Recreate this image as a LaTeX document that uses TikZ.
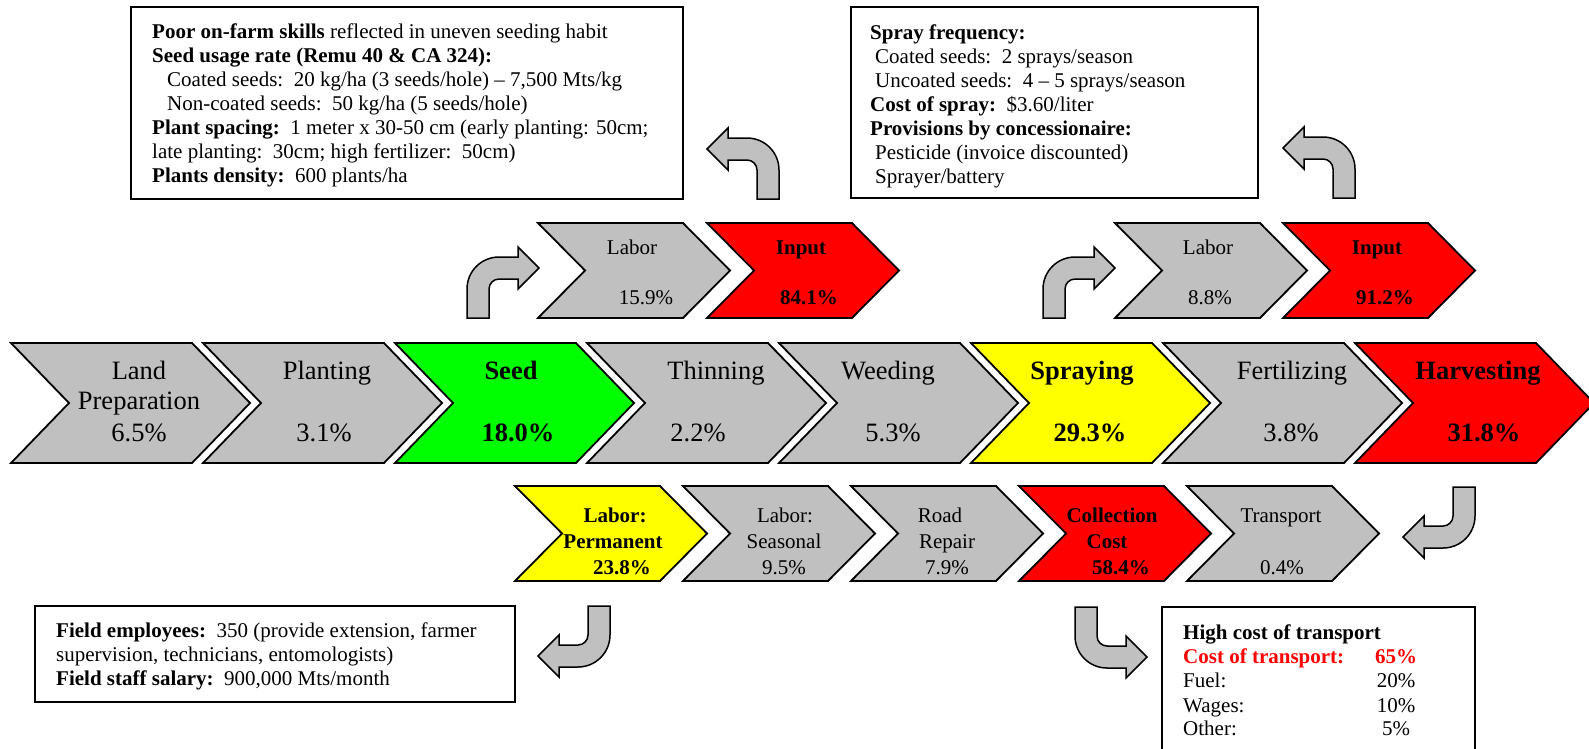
\documentclass[tikz,border=0pt]{standalone}
\usepackage{fontspec}
\setmainfont{Liberation Serif}
\definecolor{cgray}{HTML}{C0C0C0}
\definecolor{cred}{HTML}{FF0000}
\definecolor{cgreen}{HTML}{00FF00}
\definecolor{cyellow}{HTML}{FFFF00}
\newcommand{\chevron}[6]{\filldraw[chev,fill=#6] (#1,#2) -- ({#1+#3-#5},#2) -- ({#1+#3},{#2+#4/2}) -- ({#1+#3-#5},{#2+#4}) -- (#1,{#2+#4}) -- ({#1+#5},{#2+#4/2}) -- cycle;}
\newcommand{\bentarrow}[4]{\begin{scope}[shift={(#1,#2)},xscale=#3,yscale=#4]
\filldraw[bentshape] (0,0) -- (0,-29) .. controls (0,-46.7) and (14.3,-61) .. (32,-61) -- (51,-61) -- (51,-71) -- (72,-50) -- (51,-29) -- (51,-39) -- (32,-39) .. controls (26.5,-39) and (22,-34.5) .. (22,-29) -- (22,0) -- cycle;
\end{scope}}
\tikzset{
  chev/.style={draw=black,line width=1.8pt,line join=miter},
  infobox/.style={draw=black,line width=1.8pt,fill=white},
  bentshape/.style={draw=black,line width=1.5pt,fill=cgray,line join=miter},
  big/.style={font=\fontsize{26.5}{30}\selectfont,inner sep=0pt,anchor=base},
  mid/.style={font=\fontsize{21}{24}\selectfont,inner sep=0pt,anchor=base},
  txt/.style={font=\fontsize{21}{24}\selectfont,inner sep=0pt,anchor=base west},
}
\begin{document}
\begin{tikzpicture}[x=1pt,y=-1pt]
\useasboundingbox (0,0) rectangle (1589,748);
\clip (0,0) rectangle (1589,748);
\fill[white] (0,0) rectangle (1589,748);

% ---------- main chevrons ----------
\chevron{11}{343}{239}{120}{58}{cgray}
\chevron{203}{343}{239}{120}{58}{cgray}
\chevron{395}{343}{239}{120}{58}{cgreen}
\chevron{587}{343}{239}{120}{58}{cgray}
\chevron{779}{343}{239}{120}{58}{cgray}
\chevron{971}{343}{239}{120}{58}{cyellow}
\chevron{1163}{343}{239}{120}{58}{cgray}
\chevron{1355}{343}{239}{120}{58}{cred}

\node[big] (lp1) at (139,379) {Land};
\node[big] (lp2) at (139,409) {Preparation};
\node[big] (lp3) at (139,441) {6.5\%};
\node[big] (pl1) at (327,379) {Planting};
\node[big] (pl2) at (324,441) {3.1\%};
\node[big,font=\fontsize{26.5}{30}\selectfont\bfseries] (se1) at (511,379) {Seed};
\node[big,font=\fontsize{26.5}{30}\selectfont\bfseries] (se2) at (518,441) {18.0\%};
\node[big] (th1) at (716,379) {Thinning};
\node[big] (th2) at (698,441) {2.2\%};
\node[big] (we1) at (888,379) {Weeding};
\node[big] (we2) at (893,441) {5.3\%};
\node[big,font=\fontsize{26.5}{30}\selectfont\bfseries] (sp1) at (1082,379) {Spraying};
\node[big,font=\fontsize{26.5}{30}\selectfont\bfseries] (sp2) at (1090,441) {29.3\%};
\node[big] (fe1) at (1292,379) {Fertilizing};
\node[big] (fe2) at (1291,441) {3.8\%};
\node[big,font=\fontsize{26.5}{30}\selectfont\bfseries] (ha1) at (1478,379) {Harvesting};
\node[big,font=\fontsize{26.5}{30}\selectfont\bfseries] (ha2) at (1484,441) {31.8\%};

% ---------- upper chevrons ----------
\chevron{538}{223}{192}{95}{47}{cgray}
\chevron{707}{223}{192}{95}{47}{cred}
\chevron{1115}{223}{192}{95}{47}{cgray}
\chevron{1283}{223}{192}{95}{47}{cred}
\node[mid] (ul1) at (632,254) {Labor};
\node[mid] (ul2) at (646,304) {15.9\%};
\node[mid,font=\fontsize{21}{24}\selectfont\bfseries] (ui1) at (801,254) {Input};
\node[mid,font=\fontsize{21}{24}\selectfont\bfseries] (ui2) at (809,304) {84.1\%};
\node[mid] (ul3) at (1208,254) {Labor};
\node[mid] (ul4) at (1210,304) {8.8\%};
\node[mid,font=\fontsize{21}{24}\selectfont\bfseries] (ui3) at (1377,254) {Input};
\node[mid,font=\fontsize{21}{24}\selectfont\bfseries] (ui4) at (1385,304) {91.2\%};

% ---------- lower chevrons ----------
\chevron{515}{486}{192}{95}{47}{cyellow}
\chevron{683}{486}{192}{95}{47}{cgray}
\chevron{851}{486}{192}{95}{47}{cgray}
\chevron{1019}{486}{192}{95}{47}{cred}
\chevron{1187}{486}{192}{95}{47}{cgray}
\node[mid,font=\fontsize{21}{24}\selectfont\bfseries] (lo1) at (615,522) {Labor:};
\node[mid,font=\fontsize{21}{24}\selectfont\bfseries] (lo2) at (613,548) {Permanent};
\node[mid,font=\fontsize{21}{24}\selectfont\bfseries] (lo3) at (622,574) {23.8\%};
\node[mid] (lo4) at (785,522) {Labor:};
\node[mid] (lo5) at (784,548) {Seasonal};
\node[mid] (lo6) at (784,574) {9.5\%};
\node[mid] (lo7) at (940,522) {Road};
\node[mid] (lo8) at (947,548) {Repair};
\node[mid] (lo9) at (947,574) {7.9\%};
\node[mid,font=\fontsize{21}{24}\selectfont\bfseries] (lo10) at (1112,522) {Collection};
\node[mid,font=\fontsize{21}{24}\selectfont\bfseries] (lo11) at (1107,548) {Cost};
\node[mid,font=\fontsize{21}{24}\selectfont\bfseries] (lo12) at (1121,574) {58.4\%};
\node[mid] (lo13) at (1281,522) {Transport};
\node[mid] (lo14) at (1282,574) {0.4\%};

% ---------- bent arrows ----------
\bentarrow{467}{318}{1}{1}
\bentarrow{1043}{318}{1}{1}
\bentarrow{779}{199}{-1}{1}
\bentarrow{1355}{198}{-1}{1}
\bentarrow{1475}{487}{-1}{-1}
\bentarrow{610}{606}{-1}{-1}
\bentarrow{1075}{607}{1}{-1}

% ---------- info boxes ----------
\draw[infobox] (131,7) rectangle (683,199);
\node[txt] (a1) at (152,38) {\textbf{Poor on-farm skills} reflected in uneven seeding habit};
\node[txt] (a2) at (152,62) {\textbf{Seed usage rate (Remu 40 \& CA 324):}};
\node[txt] (a3) at (167,86) {Coated seeds:\ \ 20 kg/ha (3 seeds/hole) – 7,500 Mts/kg};
\node[txt] (a4) at (167,110) {Non-coated seeds:\ \ 50 kg/ha (5 seeds/hole)};
\node[txt] (a5) at (152,134) {\textbf{Plant spacing:}\ \ 1 meter x 30-50 cm (early planting: 50cm;};
\node[txt] (a6) at (152,158) {late planting:\ \ 30cm; high fertilizer:\ \ 50cm)};
\node[txt] (a7) at (152,182) {\textbf{Plants density:}\ \ 600 plants/ha};

\draw[infobox] (851,7) rectangle (1258,198);
\node[txt] (b1) at (870,39) {\textbf{Spray frequency:}};
\node[txt] (b2) at (875,63) {Coated seeds:\ \ 2 sprays/season};
\node[txt] (b3) at (875,87) {Uncoated seeds:\ \ 4 – 5 sprays/season};
\node[txt] (b4) at (870,111) {\textbf{Cost of spray:}\ \ \$3.60/liter};
\node[txt] (b5) at (870,135) {\textbf{Provisions by concessionaire:}};
\node[txt] (b6) at (875,159) {Pesticide (invoice discounted)};
\node[txt] (b7) at (875,183) {Sprayer/battery};

\draw[infobox] (35,606) rectangle (515,702);
\node[txt] (c1) at (56,637) {\textbf{Field employees:}\ \ 350 (provide extension, farmer};
\node[txt] (c2) at (56,661) {supervision, technicians, entomologists)};
\node[txt] (c3) at (56,685) {\textbf{Field staff salary:}\ \ 900,000 Mts/month};

\draw[infobox] (1162,607) rectangle (1475,770);
\node[txt] (d1) at (1183,639) {\textbf{High cost of transport}};
\node[txt,text=cred] (d2) at (1183,663) {\textbf{Cost of transport:}};
\node[mid,text=cred] (d3) at (1396,663) {\textbf{65\%}};
\node[txt] (d4) at (1183,687) {Fuel:};
\node[mid] (d5) at (1396,687) {20\%};
\node[txt] (d6) at (1183,712) {Wages:};
\node[mid] (d7) at (1396,712) {10\%};
\node[txt] (d8) at (1183,735) {Other:};
\node[mid] (d9) at (1396,735) {5\%};
\end{tikzpicture}
\end{document}
